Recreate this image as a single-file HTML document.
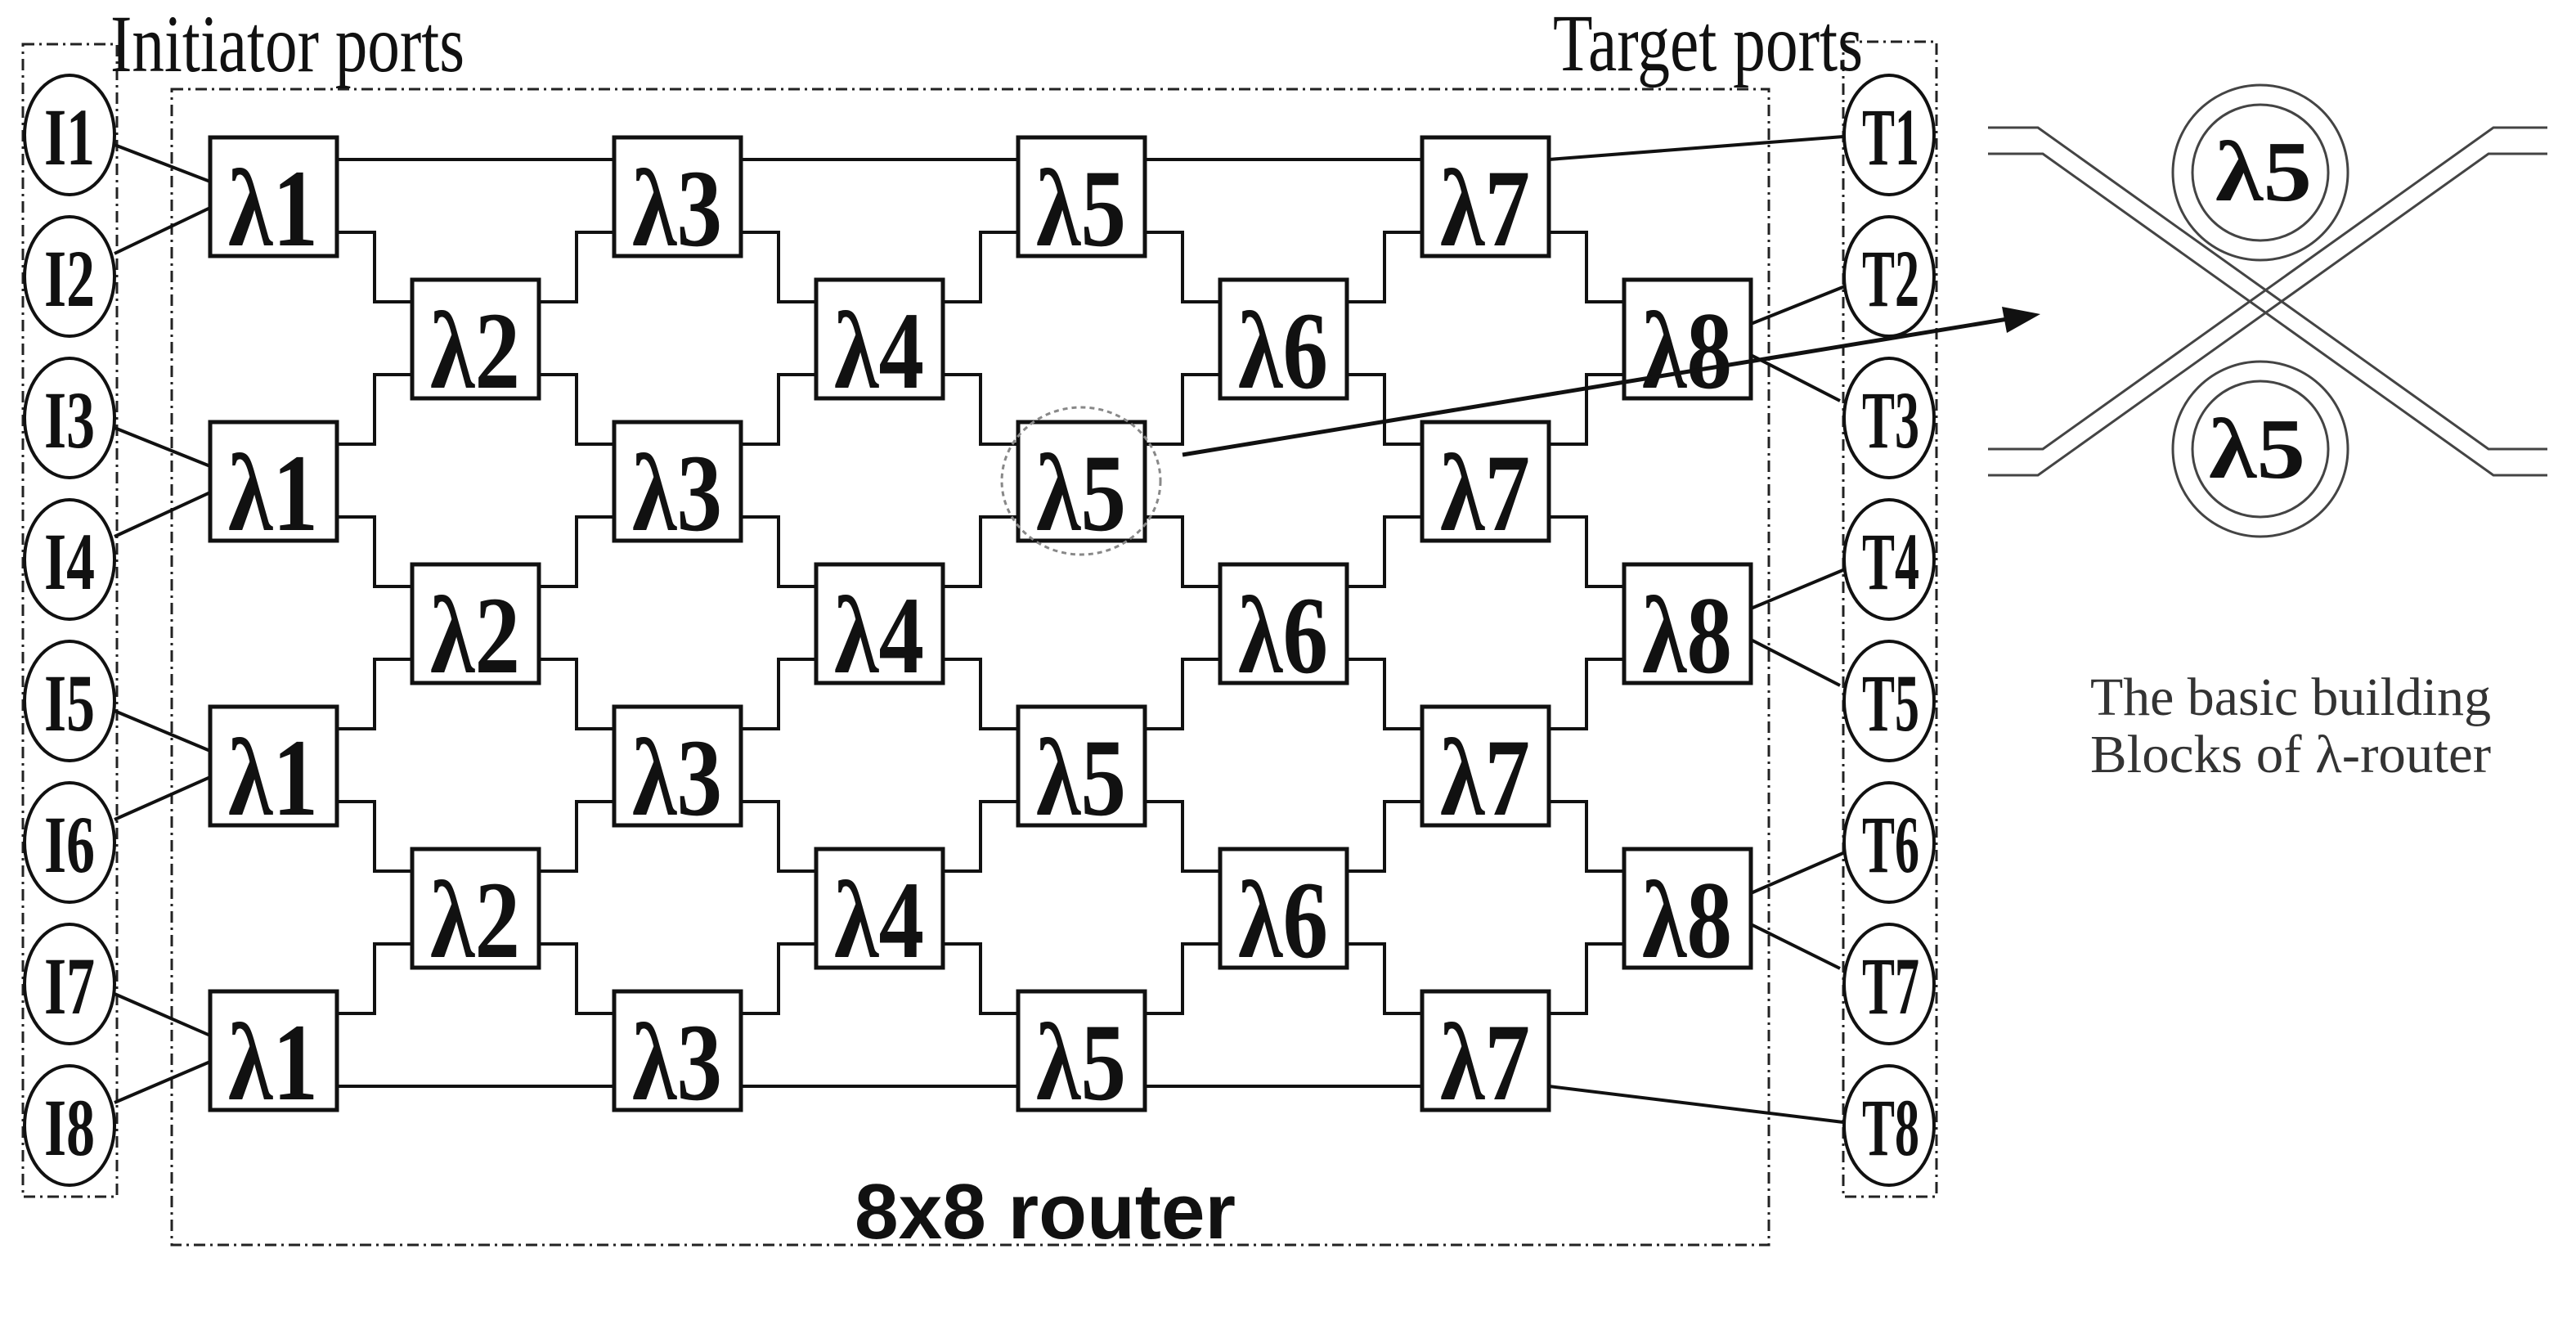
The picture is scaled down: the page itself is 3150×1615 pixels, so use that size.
<!DOCTYPE html>
<html><head><meta charset="utf-8"><style>html,body{margin:0;padding:0;background:#fff}svg{display:block}</style></head>
<body>
<svg width="3150" height="1615" viewBox="0 0 3150 1615" xmlns="http://www.w3.org/2000/svg">
<rect width="3150" height="1615" fill="#fff"/>
<!-- dashed boxes -->
<g fill="none" stroke="#222" stroke-width="3" stroke-dasharray="14 6 3 6">
<rect x="28" y="54" width="115" height="1409"/>
<rect x="2254" y="51" width="114" height="1412"/>
<rect x="210" y="109" width="1953" height="1413"/>
</g>
<!-- connectors -->
<g fill="none" stroke="#111" stroke-width="4">
<path d="M412 195H751M906 195H1245M1400 195H1739M412 1328H751M906 1328H1245M1400 1328H1739"/>
<!-- up paths -->
<path d="M412 543h46v-85h46M412 891h46v-85h46M412 1239h46v-85h46
M659 369h46v-85h46M659 717h46v-85h46M659 1065h46v-85h46
M906 543h46v-85h46M906 891h46v-85h46M906 1239h46v-85h46
M1153 369h46v-85h46M1153 717h46v-85h46M1153 1065h46v-85h46
M1400 543h46v-85h46M1400 891h46v-85h46M1400 1239h46v-85h46
M1647 369h46v-85h46M1647 717h46v-85h46M1647 1065h46v-85h46
M1894 543h46v-85h46M1894 891h46v-85h46M1894 1239h46v-85h46"/>
<!-- down paths -->
<path d="M412 284h46v85h46M412 632h46v85h46M412 980h46v85h46
M659 458h46v85h46M659 806h46v85h46M659 1154h46v85h46
M906 284h46v85h46M906 632h46v85h46M906 980h46v85h46
M1153 458h46v85h46M1153 806h46v85h46M1153 1154h46v85h46
M1400 284h46v85h46M1400 632h46v85h46M1400 980h46v85h46
M1647 458h46v85h46M1647 806h46v85h46M1647 1154h46v85h46
M1894 284h46v85h46M1894 632h46v85h46M1894 980h46v85h46"/>
<!-- I lines -->
<path d="M140 177L257 222M140 310L257 254M140 523L257 570M140 656L257 602M140 869L257 918M140 1002L257 950M140 1215L257 1266M140 1348L257 1298"/>
<!-- T lines -->
<path d="M1894 195L2254 167M1894 1328L2254 1372M2141 396L2256 350M2141 434L2250 490M2141 744L2256 696M2141 782L2250 838M2141 1092L2256 1042M2141 1130L2250 1184"/>
</g>
<!-- boxes -->
<g fill="#fff" stroke="#111" stroke-width="5">
<rect x="257" y="168" width="155" height="145"/><rect x="257" y="516" width="155" height="145"/><rect x="257" y="864" width="155" height="145"/><rect x="257" y="1212" width="155" height="145"/>
<rect x="504" y="342" width="155" height="145"/><rect x="504" y="690" width="155" height="145"/><rect x="504" y="1038" width="155" height="145"/>
<rect x="751" y="168" width="155" height="145"/><rect x="751" y="516" width="155" height="145"/><rect x="751" y="864" width="155" height="145"/><rect x="751" y="1212" width="155" height="145"/>
<rect x="998" y="342" width="155" height="145"/><rect x="998" y="690" width="155" height="145"/><rect x="998" y="1038" width="155" height="145"/>
<rect x="1245" y="168" width="155" height="145"/><rect x="1245" y="516" width="155" height="145"/><rect x="1245" y="864" width="155" height="145"/><rect x="1245" y="1212" width="155" height="145"/>
<rect x="1492" y="342" width="155" height="145"/><rect x="1492" y="690" width="155" height="145"/><rect x="1492" y="1038" width="155" height="145"/>
<rect x="1739" y="168" width="155" height="145"/><rect x="1739" y="516" width="155" height="145"/><rect x="1739" y="864" width="155" height="145"/><rect x="1739" y="1212" width="155" height="145"/>
<rect x="1986" y="342" width="155" height="145"/><rect x="1986" y="690" width="155" height="145"/><rect x="1986" y="1038" width="155" height="145"/>
</g>
<!-- port ellipses -->
<g fill="#fff" stroke="#111" stroke-width="4">
<ellipse cx="85" cy="165" rx="55" ry="73"/><ellipse cx="85" cy="338" rx="55" ry="73"/><ellipse cx="85" cy="511" rx="55" ry="73"/><ellipse cx="85" cy="684" rx="55" ry="73"/>
<ellipse cx="85" cy="857" rx="55" ry="73"/><ellipse cx="85" cy="1030" rx="55" ry="73"/><ellipse cx="85" cy="1203" rx="55" ry="73"/><ellipse cx="85" cy="1376" rx="55" ry="73"/>
<ellipse cx="2310" cy="165" rx="55" ry="73"/><ellipse cx="2310" cy="338" rx="55" ry="73"/><ellipse cx="2310" cy="511" rx="55" ry="73"/><ellipse cx="2310" cy="684" rx="55" ry="73"/>
<ellipse cx="2310" cy="857" rx="55" ry="73"/><ellipse cx="2310" cy="1030" rx="55" ry="73"/><ellipse cx="2310" cy="1203" rx="55" ry="73"/><ellipse cx="2310" cy="1376" rx="55" ry="73"/>
</g>
<!-- dashed highlight circle -->
<ellipse cx="1322" cy="588" rx="97" ry="90" fill="none" stroke="#888" stroke-width="3" stroke-dasharray="6 5"/>
<!-- box labels -->
<g font-family="Liberation Serif, serif" font-weight="bold" font-size="135" fill="#111" text-anchor="middle" lengthAdjust="spacingAndGlyphs">
<text x="334" y="300" textLength="110" lengthAdjust="spacingAndGlyphs">λ1</text><text x="334" y="648" textLength="110" lengthAdjust="spacingAndGlyphs">λ1</text><text x="334" y="996" textLength="110" lengthAdjust="spacingAndGlyphs">λ1</text><text x="334" y="1344" textLength="110" lengthAdjust="spacingAndGlyphs">λ1</text>
<text x="581" y="474" textLength="110" lengthAdjust="spacingAndGlyphs">λ2</text><text x="581" y="822" textLength="110" lengthAdjust="spacingAndGlyphs">λ2</text><text x="581" y="1170" textLength="110" lengthAdjust="spacingAndGlyphs">λ2</text>
<text x="828" y="300" textLength="110" lengthAdjust="spacingAndGlyphs">λ3</text><text x="828" y="648" textLength="110" lengthAdjust="spacingAndGlyphs">λ3</text><text x="828" y="996" textLength="110" lengthAdjust="spacingAndGlyphs">λ3</text><text x="828" y="1344" textLength="110" lengthAdjust="spacingAndGlyphs">λ3</text>
<text x="1075" y="474" textLength="110" lengthAdjust="spacingAndGlyphs">λ4</text><text x="1075" y="822" textLength="110" lengthAdjust="spacingAndGlyphs">λ4</text><text x="1075" y="1170" textLength="110" lengthAdjust="spacingAndGlyphs">λ4</text>
<text x="1322" y="300" textLength="110" lengthAdjust="spacingAndGlyphs">λ5</text><text x="1322" y="648" textLength="110" lengthAdjust="spacingAndGlyphs">λ5</text><text x="1322" y="996" textLength="110" lengthAdjust="spacingAndGlyphs">λ5</text><text x="1322" y="1344" textLength="110" lengthAdjust="spacingAndGlyphs">λ5</text>
<text x="1569" y="474" textLength="110" lengthAdjust="spacingAndGlyphs">λ6</text><text x="1569" y="822" textLength="110" lengthAdjust="spacingAndGlyphs">λ6</text><text x="1569" y="1170" textLength="110" lengthAdjust="spacingAndGlyphs">λ6</text>
<text x="1816" y="300" textLength="110" lengthAdjust="spacingAndGlyphs">λ7</text><text x="1816" y="648" textLength="110" lengthAdjust="spacingAndGlyphs">λ7</text><text x="1816" y="996" textLength="110" lengthAdjust="spacingAndGlyphs">λ7</text><text x="1816" y="1344" textLength="110" lengthAdjust="spacingAndGlyphs">λ7</text>
<text x="2063" y="474" textLength="110" lengthAdjust="spacingAndGlyphs">λ8</text><text x="2063" y="822" textLength="110" lengthAdjust="spacingAndGlyphs">λ8</text><text x="2063" y="1170" textLength="110" lengthAdjust="spacingAndGlyphs">λ8</text>
</g>
<!-- port labels -->
<g font-family="Liberation Serif, serif" font-weight="bold" font-size="100" fill="#111" text-anchor="middle">
<text x="85" y="201" textLength="62" lengthAdjust="spacingAndGlyphs">I1</text><text x="85" y="374" textLength="62" lengthAdjust="spacingAndGlyphs">I2</text><text x="85" y="547" textLength="62" lengthAdjust="spacingAndGlyphs">I3</text><text x="85" y="720" textLength="62" lengthAdjust="spacingAndGlyphs">I4</text>
<text x="85" y="893" textLength="62" lengthAdjust="spacingAndGlyphs">I5</text><text x="85" y="1066" textLength="62" lengthAdjust="spacingAndGlyphs">I6</text><text x="85" y="1239" textLength="62" lengthAdjust="spacingAndGlyphs">I7</text><text x="85" y="1412" textLength="62" lengthAdjust="spacingAndGlyphs">I8</text>
<text x="2312" y="201" textLength="70" lengthAdjust="spacingAndGlyphs">T1</text><text x="2312" y="374" textLength="70" lengthAdjust="spacingAndGlyphs">T2</text><text x="2312" y="547" textLength="70" lengthAdjust="spacingAndGlyphs">T3</text><text x="2312" y="720" textLength="70" lengthAdjust="spacingAndGlyphs">T4</text>
<text x="2312" y="893" textLength="70" lengthAdjust="spacingAndGlyphs">T5</text><text x="2312" y="1066" textLength="70" lengthAdjust="spacingAndGlyphs">T6</text><text x="2312" y="1239" textLength="70" lengthAdjust="spacingAndGlyphs">T7</text><text x="2312" y="1412" textLength="70" lengthAdjust="spacingAndGlyphs">T8</text>
</g>
<!-- titles -->
<g font-family="Liberation Serif, serif" font-size="100" fill="#111">
<text x="135" y="87" textLength="433" lengthAdjust="spacingAndGlyphs">Initiator ports</text>
<text x="1899" y="86" textLength="379" lengthAdjust="spacingAndGlyphs">Target ports</text>
</g>
<text x="1278" y="1514" font-family="Liberation Sans, sans-serif" font-weight="bold" font-size="96" fill="#111" text-anchor="middle" textLength="466" lengthAdjust="spacingAndGlyphs">8x8 router</text>
<!-- arrow -->
<line x1="1446" y1="556" x2="2455" y2="390" stroke="#111" stroke-width="5"/>
<polygon points="2495,384 2454,407 2448,375" fill="#111"/>
<!-- building block -->
<g fill="none" stroke="#444" stroke-width="3">
<path d="M2431 156H2492L3043 549H3115M2431 188H2498L3049 581H3115"/>
<path d="M3115 156H3049L2498 549H2431M3115 188H3043L2492 581H2431"/>
<circle cx="2764" cy="211" r="107"/><circle cx="2764" cy="211" r="83"/>
<circle cx="2764" cy="549" r="107"/><circle cx="2764" cy="549" r="83"/>
</g>
<g font-family="Liberation Serif, serif" font-weight="bold" font-size="105" fill="#111" text-anchor="middle">
<text x="2768" y="245" textLength="118" lengthAdjust="spacingAndGlyphs">λ5</text>
<text x="2760" y="584" textLength="118" lengthAdjust="spacingAndGlyphs">λ5</text>
</g>
<g font-family="Liberation Serif, serif" font-size="66" fill="#333">
<text x="2556" y="874" textLength="490" lengthAdjust="spacingAndGlyphs">The basic building</text>
<text x="2556" y="944" textLength="490" lengthAdjust="spacingAndGlyphs">Blocks of λ-router</text>
</g>
</svg>
</body></html>
